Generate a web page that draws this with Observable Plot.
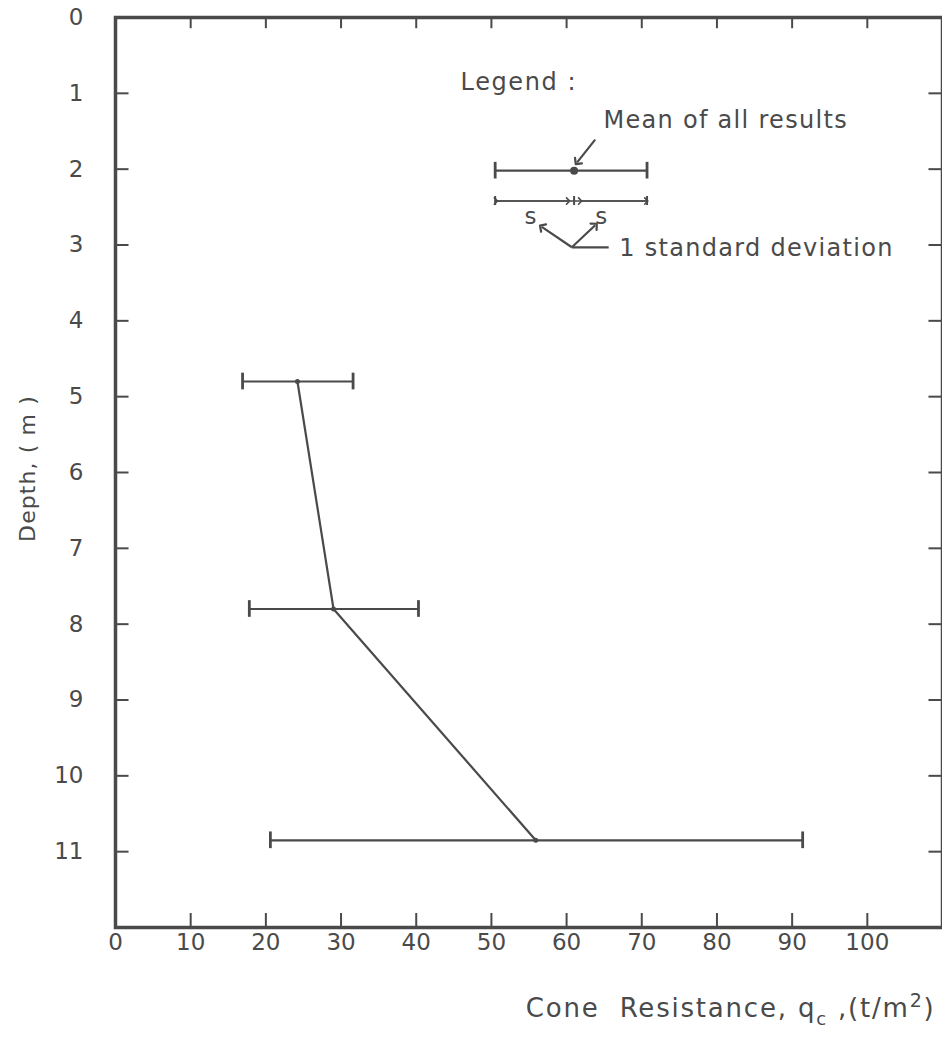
<!DOCTYPE html>
<html><head><meta charset="utf-8">
<script src="https://cdn.jsdelivr.net/npm/d3@7"></script>
<script src="https://cdn.jsdelivr.net/npm/@observablehq/plot@0.6"></script>
<style>body{margin:0;background:#fff}</style>
</head><body><div id="chart"></div>
<script>
// Measured data: depth (m), mean cone resistance and ±1 s.d. range (t/m2)
const depths = [4.8, 7.8, 10.85];
const means  = [24.2, 29.0, 55.9];
const lows   = [16.9, 17.8, 20.6];
const highs  = [31.6, 40.3, 91.4];

const xTicks = [0, 10, 20, 30, 40, 50, 60, 70, 80, 90, 100];
const yTicks = [0, 1, 2, 3, 4, 5, 6, 7, 8, 9, 10, 11];

// Legend sample (in chart units)
const legendMeanRow = [{depth: 2.02, low: 50.5, mean: 61, high: 70.7}];
const legendSdRow   = [{depth: 2.42, low: 50.5, mid: 61, high: 70.7}];
const legendSdSegs  = [{x1: 50.6, x2: 60.2}, {x1: 61.8, x2: 70.6}];
const legendSLabels = [{x: 55.2, y: 2.62, t: "s"}, {x: 64.6, y: 2.62, t: "s"}];
const sdPointers    = [{x1: 60.7, y1: 3.03, x2: 56.7, y2: 2.76}, {x1: 60.7, y1: 3.03, x2: 63.8, y2: 2.74}];
const sdLeader      = [{x1: 60.7, y1: 3.03, x2: 65.6, y2: 3.03}];
const meanPointer   = [{x1: 63.8, y1: 1.61, x2: 61.4, y2: 1.91}];
const legendTexts   = [
  {x: 45.9, y: 0.86, t: "Legend :"},
  {x: 64.9, y: 1.36, t: "Mean of all results"},
  {x: 67.0, y: 3.04, t: "1 standard deviation"}
];

const xTitle = "Cone Resistance, qc ,(t/m2)";
const yTitle = "Depth, ( m )";

const rows = depths.map((d, i) => ({depth: d, mean: means[i], low: lows[i], high: highs[i]}));
const ink = "#4a4a4a";
const cap = 0.11;
// inward tick lengths expressed in axis units (≈14 px)
const tickLenY = 0.185, tickLenX = 1.8;

const chart = Plot.plot({
  width: 942, height: 1042,
  marginLeft: 115, marginRight: 0, marginTop: 17, marginBottom: 115,
  x: {domain: [0, 110]},
  y: {domain: [0, 12], reverse: true},
  style: {fontFamily: "DejaVu Sans, sans-serif", fontSize: "22px", color: ink, background: "white"},
  marks: [
    // axes: labels only
    Plot.axisX(xTicks, {anchor: "bottom", tickSize: 0, tickPadding: 6, label: null, fontSize: 23, tickFormat: d3.format("d")}),
    Plot.axisY(yTicks, {anchor: "left", tickSize: 0, tickPadding: 32, label: null, fontSize: 23, tickFormat: d3.format("d")}),
    // inward ticks on all four sides
    Plot.ruleX(xTicks.slice(1), {x: d => d, y1: 12, y2: 12 - tickLenY, stroke: ink, strokeWidth: 2}),
    Plot.ruleX(xTicks.slice(1), {x: d => d, y1: 0, y2: tickLenY * 0.8, stroke: ink, strokeWidth: 2}),
    Plot.ruleY(yTicks.slice(1), {y: d => d, x1: 0, x2: tickLenX, stroke: ink, strokeWidth: 2}),
    Plot.ruleY(yTicks.slice(1), {y: d => d, x1: 110, x2: 110 - tickLenX, stroke: ink, strokeWidth: 2}),
    Plot.frame({stroke: ink, strokeWidth: 3.5}),

    // data: ±1 s.d. bars
    Plot.ruleY(rows, {y: "depth", x1: "low", x2: "high", stroke: ink, strokeWidth: 2.2}),
    Plot.ruleX(rows, {x: "low", y1: d => d.depth - cap, y2: d => d.depth + cap, stroke: ink, strokeWidth: 2.8}),
    Plot.ruleX(rows, {x: "high", y1: d => d.depth - cap, y2: d => d.depth + cap, stroke: ink, strokeWidth: 2.8}),
    Plot.line(rows, {x: "mean", y: "depth", stroke: ink, strokeWidth: 2.2}),
    Plot.dot(rows, {x: "mean", y: "depth", r: 2.5, fill: ink}),

    // legend: mean row
    Plot.ruleY(legendMeanRow, {y: "depth", x1: "low", x2: "high", stroke: ink, strokeWidth: 2.2}),
    Plot.ruleX(legendMeanRow, {x: "low", y1: d => d.depth - cap, y2: d => d.depth + cap, stroke: ink, strokeWidth: 2.8}),
    Plot.ruleX(legendMeanRow, {x: "high", y1: d => d.depth - cap, y2: d => d.depth + cap, stroke: ink, strokeWidth: 2.8}),
    Plot.dot(legendMeanRow, {x: "mean", y: "depth", r: 4, fill: ink}),
    // legend: s.d. row
    Plot.ruleY(legendSdRow, {y: "depth", x1: "low", x2: "high", stroke: ink, strokeWidth: 1.6}),
    Plot.link(legendSdSegs, {x1: "x1", x2: "x2", y1: () => legendSdRow[0].depth, y2: () => legendSdRow[0].depth, stroke: ink, strokeWidth: 1.6, markerStart: "arrow", markerEnd: "arrow"}),
    Plot.ruleX(legendSdRow, {x: "low", y1: d => d.depth - 0.06, y2: d => d.depth + 0.06, stroke: ink, strokeWidth: 2}),
    Plot.ruleX(legendSdRow, {x: "mid", y1: d => d.depth - 0.06, y2: d => d.depth + 0.06, stroke: ink, strokeWidth: 2}),
    Plot.ruleX(legendSdRow, {x: "high", y1: d => d.depth - 0.06, y2: d => d.depth + 0.06, stroke: ink, strokeWidth: 2}),
    Plot.text(legendSLabels, {x: "x", y: "y", text: "t", fill: ink, fontSize: 23}),
    Plot.link(sdPointers, {x1: "x1", y1: "y1", x2: "x2", y2: "y2", stroke: ink, strokeWidth: 2.2, markerEnd: "arrow"}),
    Plot.link(sdLeader, {x1: "x1", y1: "y1", x2: "x2", y2: "y2", stroke: ink, strokeWidth: 2.2}),
    Plot.link(meanPointer, {x1: "x1", y1: "y1", x2: "x2", y2: "y2", stroke: ink, strokeWidth: 2.2, markerEnd: "arrow"}),
    Plot.text(legendTexts, {x: "x", y: "y", text: "t", textAnchor: "start", fill: ink, fontSize: 24}),

    // axis titles
    Plot.text([yTitle], {frameAnchor: "left", textAnchor: "middle", rotate: -90, dx: -88, dy: -4, fill: ink, fontSize: 22}),
    Plot.text([xTitle], {frameAnchor: "bottom-right", textAnchor: "end", dx: -7, dy: 89, fill: ink, fontSize: 26})
  ]
});

// letter spacing to match the stencil lettering
const spacing = new Map([
  ["Legend :", 1.6], ["Mean of all results", 1.3], ["1 standard deviation", 1.3],
  [yTitle, 1.1], [xTitle, 1.8]
]);
for (const e of chart.querySelectorAll("text")) {
  const s = spacing.get(e.textContent);
  if (s != null) e.style.letterSpacing = s + "px";
}

// subscript / superscript in the x title
const ns = "http://www.w3.org/2000/svg";
const tEl = [...chart.querySelectorAll("text")].find(e => e.textContent === xTitle);
if (tEl) {
  tEl.textContent = "";
  const parts = [["Cone\u00a0 Resistance, q", 0, null], ["c", 8, 18], ["\u00a0,(t/m", -8, null], ["2", -10, 19], [")", 10, null]];
  for (const [s, dy, fs] of parts) {
    const ts = document.createElementNS(ns, "tspan");
    ts.textContent = s;
    if (dy) ts.setAttribute("dy", dy);
    if (fs) ts.setAttribute("font-size", fs);
    tEl.appendChild(ts);
  }
}
document.getElementById("chart").appendChild(chart);
</script>
</body></html>
